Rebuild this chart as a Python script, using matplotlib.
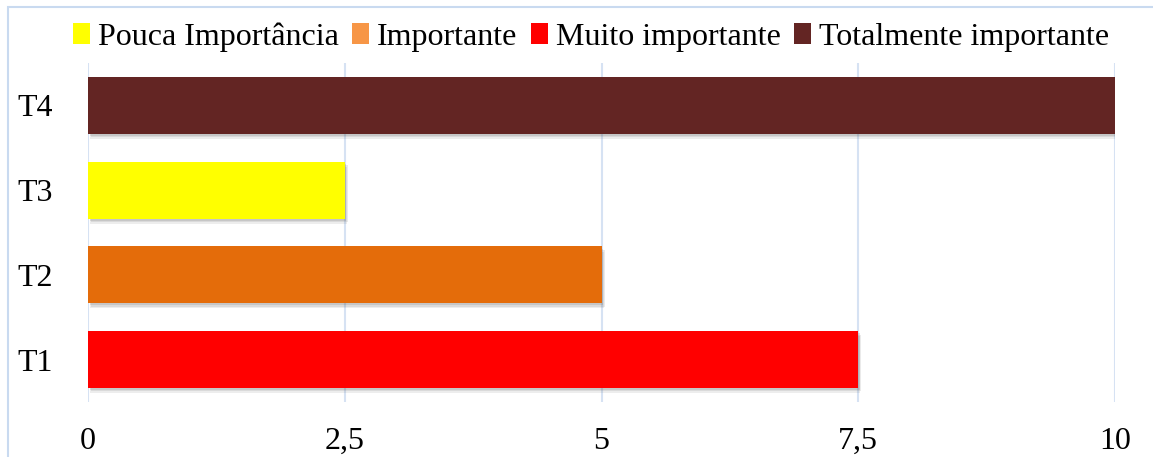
import matplotlib
matplotlib.use("Agg")
import matplotlib.pyplot as plt
from matplotlib.patches import Patch, Rectangle

# Importance rating per item
tasks = ["T1", "T2", "T3", "T4"]
scores = [7.5, 5.0, 2.5, 10.0]
bar_colors = ["#FF0000", "#E46C0A", "#FFFF00", "#632523"]

legend_labels = ["Pouca Importância", "Importante", "Muito importante",
                 "Totalmente importante"]
legend_colors = ["#FFFF00", "#F79646", "#FF0000", "#632523"]

xticks = [0, 2.5, 5, 7.5, 10]
xtick_labels = ["0", "2,5", "5", "7,5", "10"]

GRID = "#D6E2F3"
BORDER = "#C9DAF0"

plt.rcParams["font.family"] = ["Liberation Serif", "DejaVu Serif"]

W, H = 1153, 457
fig = plt.figure(figsize=(W / 100, H / 100), dpi=100)
fig.patch.set_facecolor("white")

# chart frame (only left and top edges fall inside the image)
fig.add_artist(Rectangle((8 / W, -0.1), 1.2, (H - 7) / H + 0.1,
                         transform=fig.transFigure, fill=False,
                         edgecolor=BORDER, linewidth=1.5))

ax = fig.add_axes([88 / W, 1 - 402 / H, (1115 - 88) / W, (402 - 63) / H])
ypos = list(range(len(tasks)))

# soft drop shadow under each bar
for dx, dy, a in [(0.02, -0.06, 0.10), (0.03, -0.04, 0.12),
                  (0.015, -0.025, 0.15)]:
    ax.barh([y + dy for y in ypos], scores, height=0.67, left=dx,
            color="#555555", alpha=a, linewidth=0, zorder=2)
ax.barh(ypos, scores, height=0.67, color=bar_colors, linewidth=0, zorder=3)

ax.set_xlim(0, 10)
ax.set_ylim(-0.5, 3.5)
ax.set_xticks(xticks)
ax.set_xticklabels(xtick_labels)
ax.set_yticks(ypos)
ax.set_yticklabels(tasks)
ax.tick_params(axis="both", length=0, labelsize=23, colors="black")
ax.tick_params(axis="x", pad=18)
ax.tick_params(axis="y", pad=25)
ax.grid(True, axis="x", color=GRID, linewidth=1.5)
ax.set_axisbelow(True)
for s in ax.spines.values():
    s.set_visible(False)

handles = [Patch(facecolor=c, edgecolor="none", label=l)
           for c, l in zip(legend_colors, legend_labels)]
fig.legend(handles=handles, loc="center", bbox_to_anchor=(591 / W, 1 - 37 / H),
           ncol=4, frameon=False, fontsize=23, handlelength=0.55,
           handleheight=0.6, handletextpad=0.25, columnspacing=0.4,
           borderaxespad=0)

fig.savefig("out.png", dpi=100, facecolor="white")
